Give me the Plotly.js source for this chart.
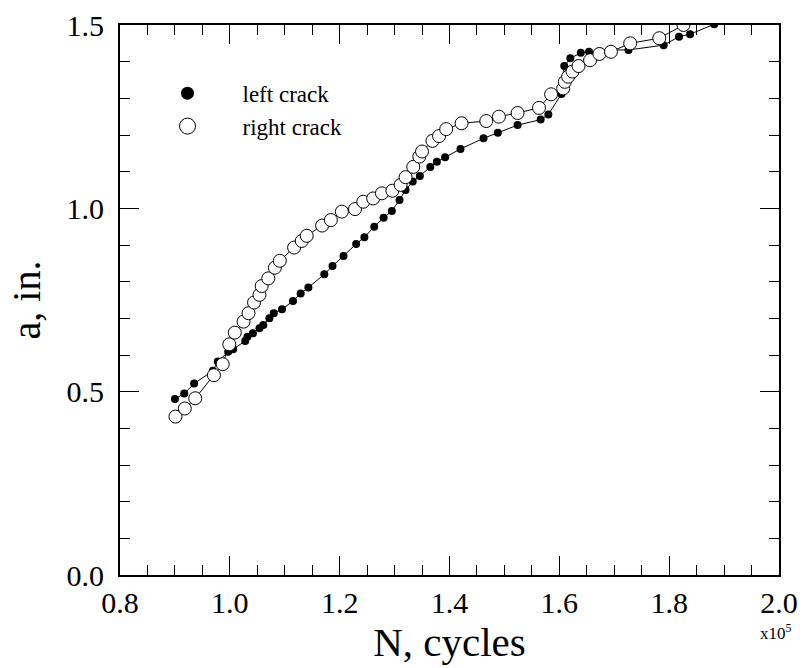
<!DOCTYPE html>
<html>
<head>
<meta charset="utf-8">
<script src="https://cdn.plot.ly/plotly-3.0.1.min.js"></script>
<style>html,body{margin:0;padding:0;background:#fff;}#chart{width:803px;height:668px;}</style>
</head>
<body>
<div id="chart"></div>
<script>
// N in units of 1e5 cycles, a in inches
const leftN = [0.900,0.917,0.935,0.969,0.978,0.997,1.006,1.028,1.032,1.042,1.054,1.061,1.072,1.080,1.095,1.115,1.129,1.143,1.172,1.187,1.207,1.230,1.245,1.263,1.280,1.295,1.309,1.320,1.333,1.346,1.365,1.377,1.392,1.420,1.462,1.488,1.524,1.566,1.580,1.604,1.609,1.620,1.639,1.654,1.673,1.693,1.726,1.790,1.818,1.838,1.882];
const leftA = [0.480,0.495,0.522,0.557,0.582,0.609,0.616,0.638,0.650,0.659,0.673,0.682,0.700,0.714,0.725,0.747,0.768,0.784,0.820,0.843,0.870,0.903,0.921,0.950,0.974,0.993,1.023,1.050,1.073,1.088,1.113,1.127,1.139,1.162,1.191,1.206,1.227,1.242,1.256,1.312,1.388,1.409,1.424,1.427,1.427,1.432,1.432,1.445,1.468,1.475,1.502];
const rightN = [0.901,0.918,0.937,0.971,0.987,0.999,1.009,1.025,1.034,1.044,1.054,1.058,1.070,1.082,1.091,1.117,1.131,1.140,1.168,1.184,1.204,1.228,1.243,1.261,1.277,1.296,1.311,1.320,1.334,1.345,1.350,1.369,1.381,1.394,1.422,1.467,1.490,1.524,1.563,1.585,1.607,1.610,1.616,1.624,1.635,1.656,1.673,1.694,1.729,1.782,1.826];
const rightA = [0.432,0.454,0.482,0.545,0.575,0.629,0.661,0.691,0.714,0.743,0.764,0.788,0.809,0.838,0.857,0.893,0.911,0.925,0.953,0.968,0.991,0.998,1.018,1.027,1.041,1.048,1.064,1.085,1.113,1.141,1.155,1.184,1.197,1.216,1.232,1.238,1.250,1.260,1.274,1.311,1.327,1.345,1.359,1.373,1.388,1.404,1.421,1.427,1.450,1.464,1.500];
const seriesNames = ['left crack','right crack'];
const xTickVals = [0.8,1.0,1.2,1.4,1.6,1.8,2.0];
const yTickVals = [0.0,0.5,1.0,1.5];

const FONT = 'Liberation Serif, Times New Roman, serif';
const traces = [
  {x:leftN, y:leftA, mode:'lines+markers', showlegend:false,
   line:{color:'#000', width:1}, marker:{symbol:'circle', size:8, color:'#000'}},
  {x:rightN, y:rightA, mode:'lines+markers', showlegend:false,
   line:{color:'#000', width:1}, marker:{symbol:'circle', size:13, color:'#fff', line:{color:'#000', width:1}}},
  {x:[null], y:[null], mode:'markers', name:seriesNames[0],
   marker:{symbol:'circle', size:13, color:'#000'}},
  {x:[null], y:[null], mode:'markers', name:seriesNames[1],
   marker:{symbol:'circle', size:18, color:'#fff', line:{color:'#000', width:1}}}
];
const axisCommon = {
  showline:true, linecolor:'#000', linewidth:2, mirror:'allticks',
  ticks:'inside', ticklen:19, tickwidth:1, tickcolor:'#000',
  showgrid:false, zeroline:false,
  tickfont:{family:FONT, size:30, color:'#000'}
};
const layout = {
  width:803, height:668,
  margin:{l:120, r:24, t:25, b:93},
  paper_bgcolor:'#fff', plot_bgcolor:'#fff',
  font:{family:FONT, color:'#000'},
  xaxis:Object.assign({}, axisCommon, {
    range:[0.8,2.0], tickvals:xTickVals, tickformat:'.1f',
    minor:{dtick:0.05, ticks:'inside', ticklen:10, tickcolor:'#000', tickwidth:1, showgrid:false},
    title:{text:'N, cycles', font:{family:FONT, size:41, color:'#000'}, standoff:6}
  }),
  yaxis:Object.assign({}, axisCommon, {
    range:[0,1.5], tickvals:yTickVals, tickformat:'.1f',
    minor:{dtick:0.1, ticks:'inside', ticklen:10, tickcolor:'#000', tickwidth:1, showgrid:false},
    ticklabelstandoff:8,
    title:{text:'a, in.', font:{family:FONT, size:40, color:'#000'}, standoff:14}
  }),
  legend:{x:0.019, y:0.915, xanchor:'left', yanchor:'top', bgcolor:'rgba(0,0,0,0)',
    font:{family:FONT, size:23, color:'#000'}, itemwidth:100, tracegroupgap:0},
  annotations:[{xref:'paper', yref:'paper', x:0.995, y:-0.104, xanchor:'center', yanchor:'middle',
    text:'x10<sup>5</sup>', showarrow:false, font:{family:FONT, size:17, color:'#000'}}]
};
Plotly.newPlot('chart', traces, layout, {staticPlot:true, displayModeBar:false});
</script>
</body>
</html>
